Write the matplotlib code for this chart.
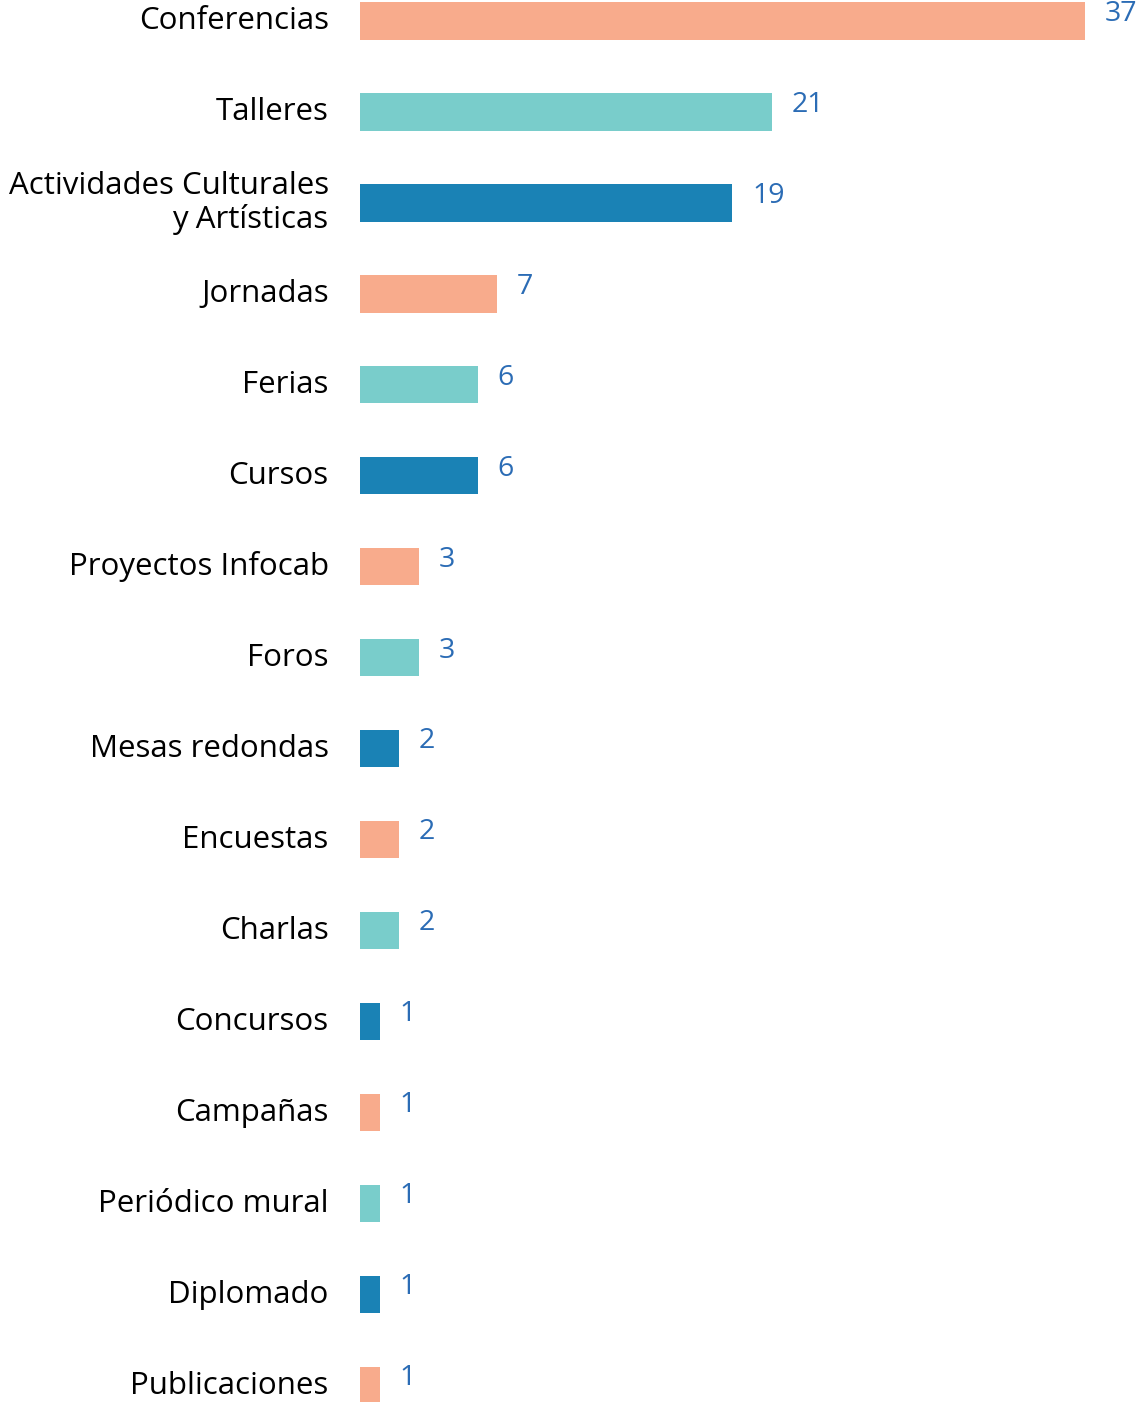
import matplotlib.pyplot as plt

# categorías y valores (número de actividades)
categorias = ['Conferencias', 'Talleres', 'Actividades Culturales\ny Artísticas', 'Jornadas',
              'Ferias', 'Cursos', 'Proyectos Infocab', 'Foros', 'Mesas redondas',
              'Encuestas', 'Charlas', 'Concursos', 'Campañas', 'Periódico mural',
              'Diplomado', 'Publicaciones']
valores = [37, 21, 19, 7, 6, 6, 3, 3, 2, 2, 2, 1, 1, 1, 1, 1]

paleta = ['#F8AB8C', '#79CDCB', '#1A82B5']
colores = [paleta[i % 3] for i in range(len(valores))]

plt.rcParams['font.family'] = ['Open Sans', 'DejaVu Sans']

fig = plt.figure(figsize=(11.44, 14.02), dpi=100)
ax = fig.add_axes([360 / 1144, 0, 784 / 1144, 1])

pos = list(range(len(valores)))
ax.barh(pos, valores, height=0.41, color=colores)

ax.set_xlim(0, 40)
ax.set_ylim(15.18, -0.23)

for y, v in zip(pos, valores):
    ax.text(v + 1.0, y - 0.08, str(v), color='#2B6CB5', fontsize=20.5,
            va='center', ha='left')

for y, c in zip(pos, categorias):
    ax.text(-1.6, y, c, color='#000000', fontsize=22.5, va='center', ha='right',
            linespacing=1.1)

ax.axis('off')
fig.savefig('out.png', dpi=100)
